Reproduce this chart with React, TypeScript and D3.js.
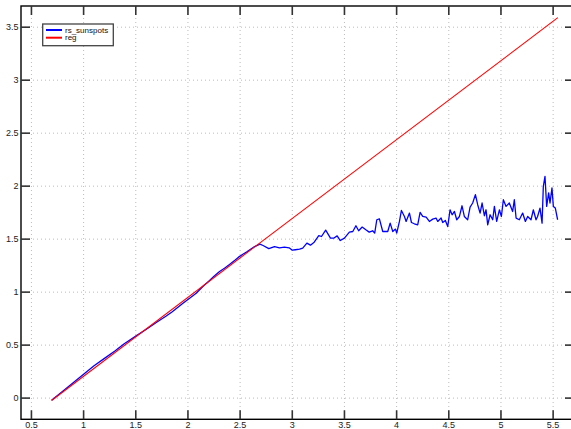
import React from "react";
import { scaleLinear, line } from "d3";

// rescaled range curve for the sunspot series
const sunspotX = [
  0.693, 0.8, 0.9, 1.0, 1.1, 1.2, 1.3, 1.386, 1.5, 1.609, 1.7, 1.792, 1.85, 1.946, 2.0, 2.079,
  2.15, 2.197, 2.25, 2.303, 2.35, 2.398, 2.45, 2.485, 2.53, 2.565, 2.6, 2.639, 2.69, 2.72,
  2.775, 2.83, 2.877, 2.925, 2.97, 3.0, 3.03, 3.07, 3.1, 3.14, 3.174, 3.21, 3.254, 3.28,
  3.32, 3.366, 3.4, 3.43, 3.46, 3.5, 3.547, 3.58, 3.61, 3.636, 3.67, 3.705, 3.737, 3.77,
  3.79, 3.81, 3.835, 3.867, 3.915, 3.938, 3.963, 3.989, 4.001, 4.027, 4.046, 4.075, 4.091,
  4.123, 4.142, 4.17, 4.202, 4.225, 4.25, 4.283, 4.314, 4.346, 4.378, 4.394, 4.426, 4.442,
  4.467, 4.49, 4.512, 4.532, 4.554, 4.576, 4.602, 4.627, 4.649, 4.681, 4.704, 4.729, 4.755,
  4.777, 4.8, 4.819, 4.841, 4.857, 4.873, 4.896, 4.921, 4.937, 4.959, 4.985, 5.004, 5.023,
  5.049, 5.08, 5.112, 5.128, 5.145, 5.176, 5.208, 5.234, 5.256, 5.288, 5.31, 5.336, 5.351,
  5.374, 5.394, 5.406, 5.422, 5.438, 5.457, 5.47, 5.489, 5.502, 5.521, 5.543,
];
const sunspotY = [
  -0.02, 0.065, 0.145, 0.225, 0.305, 0.375, 0.445, 0.51, 0.585, 0.655, 0.715, 0.775, 0.815,
  0.89, 0.93, 0.99, 1.06, 1.1, 1.15, 1.195, 1.225, 1.26, 1.3, 1.33, 1.36, 1.38, 1.405, 1.43,
  1.453, 1.44, 1.41, 1.43, 1.418, 1.424, 1.418, 1.396, 1.4, 1.405, 1.415, 1.462, 1.443,
  1.471, 1.534, 1.525, 1.585, 1.51, 1.51, 1.531, 1.487, 1.51, 1.566, 1.572, 1.626, 1.579,
  1.614, 1.588, 1.566, 1.579, 1.557, 1.683, 1.692, 1.572, 1.572, 1.651, 1.572, 1.595, 1.557,
  1.667, 1.771, 1.714, 1.667, 1.746, 1.657, 1.645, 1.635, 1.752, 1.714, 1.708, 1.667, 1.689,
  1.699, 1.667, 1.699, 1.657, 1.676, 1.619, 1.777, 1.73, 1.761, 1.683, 1.714, 1.815, 1.714,
  1.683, 1.803, 1.841, 1.92, 1.825, 1.746, 1.841, 1.721, 1.777, 1.635, 1.73, 1.683, 1.809,
  1.667, 1.777, 1.714, 1.872, 1.809, 1.841, 1.761, 1.872, 1.699, 1.683, 1.746, 1.667, 1.714,
  1.683, 1.777, 1.683, 1.714, 1.793, 1.651, 1.998, 2.093, 1.809, 1.936, 1.841, 1.983, 1.809,
  1.793, 1.683,
];

// fitted regression line
const regX = [0.693, 5.545];
const regY = [-0.022, 3.59];

const xTicks = [0.5, 1, 1.5, 2, 2.5, 3, 3.5, 4, 4.5, 5, 5.5];
const yTicks = [0, 0.5, 1, 1.5, 2, 2.5, 3, 3.5];
const legendNames = ["rs_sunspots", "reg"];

const W = 571;
const H = 429;
const left = 21;
const right = 574;
const top = 6;
const bottom = 419.3;

const App = () => {
  const x = scaleLinear().domain([0.4, 5.7]).range([left, right]);
  const y = scaleLinear().domain([-0.2, 3.7]).range([bottom, top]);

  const gen = line<number>()
    .x((d) => x(d))
    .y((_, i) => 0);

  const path = (xs: number[], ys: number[]) =>
    line<number>()
      .x((d) => x(d))
      .y((_, i) => y(ys[i]))(xs) || "";

  const font = "'Liberation Sans', Arial, Helvetica, sans-serif";
  const tickLen = 9;
  const tickColor = "#333";

  return (
    <svg
      width={W}
      height={H}
      style={{ position: "absolute", left: 0, top: 0, background: "#fff" }}
      fontFamily={font}
    >
      <rect x={0} y={0} width={W} height={H} fill="#fff" />
      {/* grid */}
      <g stroke="#bbb" strokeWidth={1} strokeDasharray="1,3">
        {xTicks.map((t) => (
          <line key={"gx" + t} x1={x(t)} x2={x(t)} y1={top} y2={bottom} />
        ))}
        {yTicks.map((t) => (
          <line key={"gy" + t} x1={left} x2={right} y1={y(t)} y2={y(t)} />
        ))}
      </g>

      {/* data */}
      <path d={path(sunspotX, sunspotY)} fill="none" stroke="#0000ff" strokeWidth={1.3} strokeLinejoin="round" />
      <path d={path(regX, regY)} fill="none" stroke="#ff0000" strokeWidth={1.1} />

      {/* frame */}
      <rect x={left} y={top} width={right - left} height={bottom - top} fill="none" stroke="#000" strokeWidth={1.4} />

      {/* ticks */}
      <g stroke={tickColor} strokeWidth={1.6}>
        {xTicks.map((t) => (
          <g key={"tx" + t}>
            <line x1={x(t)} x2={x(t)} y1={bottom} y2={bottom - tickLen} />
            <line x1={x(t)} x2={x(t)} y1={top} y2={top + tickLen} />
          </g>
        ))}
        {yTicks.map((t) => (
          <g key={"ty" + t}>
            <line x1={left} x2={left + tickLen} y1={y(t)} y2={y(t)} />
            <line x1={right} x2={right - tickLen} y1={y(t)} y2={y(t)} />
          </g>
        ))}
      </g>

      {/* tick labels */}
      <g fontSize={9} fill="#222">
        {xTicks.map((t) => (
          <text key={"lx" + t} x={x(t)} y={427.5} textAnchor="middle">
            {String(t)}
          </text>
        ))}
        {yTicks.map((t) => (
          <text key={"ly" + t} x={18.5} y={y(t)} textAnchor="end" dominantBaseline="central">
            {String(t)}
          </text>
        ))}
      </g>

      {/* legend */}
      <rect x={42.7} y={24} width={70.6} height={21.7} fill="#fff" stroke="#444" strokeWidth={1.3} />
      {legendNames.map((name, i) => (
        <g key={name}>
          <line
            x1={46}
            x2={62}
            y1={30 + i * 7.7}
            y2={30 + i * 7.7}
            stroke={i === 0 ? "#0000ff" : "#ff0000"}
            strokeWidth={2}
          />
          <text x={65} y={30 + i * 7.7} fontSize={8} dominantBaseline="central" fill="#111">
            {name}
          </text>
        </g>
      ))}
    </svg>
  );
};

export default App;
